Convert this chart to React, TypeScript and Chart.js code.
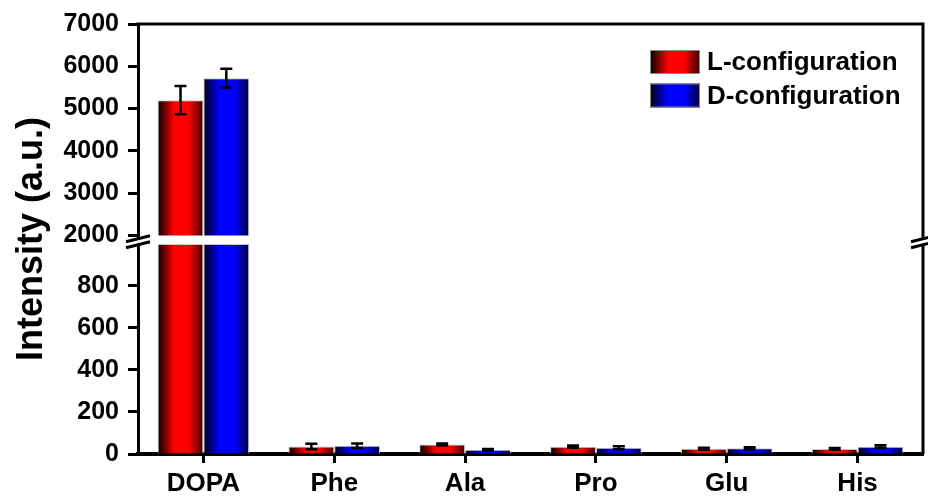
import { useEffect, useRef } from 'react';
import { Chart, registerables } from 'chart.js';

Chart.register(...registerables);

// Amino-acid categories and fluorescence intensities (a.u.)
const categories = ['DOPA', 'Phe', 'Ala', 'Pro', 'Glu', 'His'];
const lValues = [5200, 36, 45, 35, 25, 24];
const lErrors = [335, 13, 5, 5, 5, 4];
const dValues = [5720, 39, 20, 30, 27, 35];
const dErrors = [220, 11, 4, 7, 5, 7];
const seriesNames = ['L-configuration', 'D-configuration'];

// Broken value axis: 0–1000 below the break, 2000–7000 above it
const lowerTicks = [0, 200, 400, 600, 800];
const upperTicks = [2000, 3000, 4000, 5000, 6000, 7000];
const breakFrom = 1000;
const breakTo = 2000;

const FONT = '"Liberation Sans", Arial, Helvetica, sans-serif';

const redStops: [number, string][] = [
  [0, '#000000'],
  [0.36, '#ff0000'],
  [0.68, '#ff0000'],
  [1, '#380000'],
];
const blueStops: [number, string][] = [
  [0, '#000010'],
  [0.36, '#0000ff'],
  [0.68, '#0000ff'],
  [1, '#000038'],
];

function gradient(ctx: CanvasRenderingContext2D, x0: number, x1: number, stops: [number, string][]) {
  const g = ctx.createLinearGradient(x0, 0, x1, 0);
  stops.forEach(([o, c]) => g.addColorStop(o, c));
  return g;
}

const lowOnly = (vals: number[]) => vals.map((v) => Math.min(v, breakFrom));
const highOnly = (vals: number[]) => vals.map((v) => (v >= breakTo ? v : null));

// Horizontal shading across each bar
const barGradientPlugin = {
  id: 'barGradient',
  beforeDatasetsDraw(chart: any) {
    const ctx = chart.ctx;
    chart.data.datasets.forEach((ds: any, di: number) => {
      const meta = chart.getDatasetMeta(di);
      const stops = ds.stack === 'L' ? redStops : blueStops;
      meta.data.forEach((el: any) => {
        const { x, width } = el.getProps(['x', 'width'], true);
        if (!isFinite(x) || !width) return;
        el.options.backgroundColor = gradient(ctx, x - width / 2, x + width / 2, stops);
      });
    });
  },
};

// Error bars, placed on whichever half of the broken axis holds the value
const errorBarPlugin = {
  id: 'errorBars',
  afterDatasetsDraw(chart: any) {
    const ctx = chart.ctx;
    const yLow = chart.scales.yLow;
    const yHigh = chart.scales.yHigh;
    const series = [
      { vals: lValues, errs: lErrors, meta: chart.getDatasetMeta(0) },
      { vals: dValues, errs: dErrors, meta: chart.getDatasetMeta(1) },
    ];
    ctx.save();
    ctx.strokeStyle = '#000';
    ctx.lineWidth = 2.5;
    series.forEach(({ vals, errs, meta }) => {
      vals.forEach((v, i) => {
        const el = meta.data[i];
        if (!el) return;
        const scale = v >= breakTo ? yHigh : yLow;
        const x = el.x;
        const yTop = scale.getPixelForValue(v + errs[i]);
        const yBot = scale.getPixelForValue(v - errs[i]);
        const cap = 6;
        ctx.beginPath();
        ctx.moveTo(x, yTop);
        ctx.lineTo(x, yBot);
        ctx.moveTo(x - cap, yTop);
        ctx.lineTo(x + cap, yTop);
        ctx.moveTo(x - cap, yBot);
        ctx.lineTo(x + cap, yBot);
        ctx.stroke();
      });
    });
    ctx.restore();
  },
};

// Frame, axis-break marks, legend and value-axis title
const decorPlugin = {
  id: 'decor',
  afterDraw(chart: any) {
    const ctx = chart.ctx;
    const { left, right, top, bottom } = chart.chartArea;
    const yLow = chart.scales.yLow;
    const yHigh = chart.scales.yHigh;

    ctx.save();
    ctx.strokeStyle = '#000';
    ctx.lineWidth = 3;
    ctx.beginPath();
    ctx.moveTo(left - 1.5, top);
    ctx.lineTo(right, top);
    ctx.moveTo(right, top - 1.5);
    ctx.lineTo(right, bottom);
    ctx.stroke();

    const mid = (yLow.getPixelForValue(breakFrom) + yHigh.getPixelForValue(breakTo)) / 2 + 2;
    const drawBreak = (ax: number) => {
      const half = 12;
      const rise = 3;
      const sep = 3;
      ctx.fillStyle = '#fff';
      ctx.beginPath();
      ctx.moveTo(ax - half, mid - sep + rise);
      ctx.lineTo(ax + half, mid - sep - rise);
      ctx.lineTo(ax + half, mid + sep - rise);
      ctx.lineTo(ax - half, mid + sep + rise);
      ctx.closePath();
      ctx.fill();
      ctx.lineWidth = 3;
      ctx.beginPath();
      ctx.moveTo(ax - half, mid - sep + rise);
      ctx.lineTo(ax + half, mid - sep - rise);
      ctx.moveTo(ax - half, mid + sep + rise);
      ctx.lineTo(ax + half, mid + sep - rise);
      ctx.stroke();
    };
    drawBreak(left);
    drawBreak(right);

    // Legend
    const lx = right - 273;
    const rows = [
      { y: top + 26, name: seriesNames[0], stops: redStops },
      { y: top + 59.5, name: seriesNames[1], stops: blueStops },
    ];
    rows.forEach((r) => {
      ctx.fillStyle = gradient(ctx, lx, lx + 50, r.stops);
      ctx.fillRect(lx, r.y, 50, 24);
      ctx.strokeStyle = '#888';
      ctx.lineWidth = 1;
      ctx.strokeRect(lx + 0.5, r.y + 0.5, 49, 23);
      ctx.fillStyle = '#000';
      ctx.font = `bold 26px ${FONT}`;
      ctx.textAlign = 'left';
      ctx.textBaseline = 'middle';
      ctx.fillText(r.name, lx + 57, r.y + 13);
    });

    // Value-axis title
    ctx.translate(42, (top + bottom) / 2);
    ctx.rotate(-Math.PI / 2);
    ctx.fillStyle = '#000';
    ctx.font = `bold 36px ${FONT}`;
    ctx.textAlign = 'center';
    ctx.textBaseline = 'alphabetic';
    ctx.fillText('Intensity (a.u.)', 0, 0);
    ctx.restore();
  },
};

export default function App() {
  const canvasRef = useRef<HTMLCanvasElement | null>(null);

  useEffect(() => {
    const canvas = canvasRef.current;
    if (!canvas) return;

    const common = {
      barPercentage: 1,
      categoryPercentage: 0.7,
      borderColor: '#c8c8c8',
      borderWidth: 1,
      // scriptable so each bar keeps its own options (gradient is set per bar)
      backgroundColor: (c: any) => (c.dataset.stack === 'L' ? '#ff0000' : '#0000ff'),
    };

    const yCommon = {
      type: 'linear' as const,
      position: 'left' as const,
      stack: 'value',
      stacked: false,
      grid: { drawOnChartArea: false, tickLength: 10, tickWidth: 3, color: '#000' },
      border: { display: true, width: 3, color: '#000' },
      ticks: {
        font: { family: FONT, size: 25, weight: 'bold' as const },
        color: '#000',
        padding: 9,
        autoSkip: false,
        callback: (v: any) => String(v),
      },
      afterFit: (s: any) => {
        s.width = 138;
      },
    };

    const chart = new Chart(canvas, {
      type: 'bar',
      data: {
        labels: categories,
        datasets: [
          { ...common, label: seriesNames[0], data: lowOnly(lValues), yAxisID: 'yLow', stack: 'L' },
          { ...common, label: seriesNames[1], data: lowOnly(dValues), yAxisID: 'yLow', stack: 'D' },
          { ...common, label: seriesNames[0], data: highOnly(lValues), yAxisID: 'yHigh', stack: 'L' },
          { ...common, label: seriesNames[1], data: highOnly(dValues), yAxisID: 'yHigh', stack: 'D' },
        ] as any,
      },
      options: {
        responsive: false,
        animation: false,
        devicePixelRatio: 1,
        layout: { padding: { top: 23, right: 5, left: 0, bottom: 0 } },
        plugins: {
          legend: { display: false },
          tooltip: { enabled: false },
          title: { display: false },
        },
        scales: {
          x: {
            type: 'category',
            position: 'bottom',
            grid: { offset: false, drawOnChartArea: false, tickLength: 9, tickWidth: 3, color: '#000' },
            border: { display: true, width: 4, color: '#000' },
            ticks: {
              font: { family: FONT, size: 26, weight: 'bold' },
              color: '#000',
              padding: 5,
              maxRotation: 0,
              autoSkip: false,
            },
            afterFit: (s: any) => {
              s.height = 43;
            },
          },
          yLow: {
            ...yCommon,
            stackWeight: 219,
            min: 0,
            max: 1040,
            afterBuildTicks: (s: any) => {
              s.ticks = lowerTicks.map((value) => ({ value }));
            },
          },
          yHigh: {
            ...yCommon,
            stackWeight: 212,
            min: upperTicks[0],
            max: upperTicks[upperTicks.length - 1],
            afterBuildTicks: (s: any) => {
              s.ticks = upperTicks.map((value) => ({ value }));
            },
          },
        } as any,
      },
      plugins: [barGradientPlugin, errorBarPlugin, decorPlugin],
    });

    return () => chart.destroy();
  }, []);

  return (
    <div style={{ position: 'fixed', left: 0, top: 0, width: 928, height: 497, background: '#fff' }}>
      <canvas ref={canvasRef} width={928} height={497} />
    </div>
  );
}
